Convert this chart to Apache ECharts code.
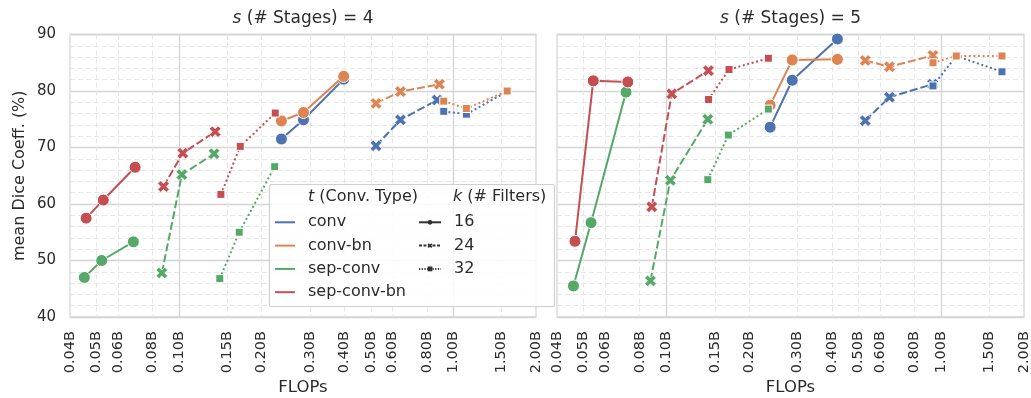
<!DOCTYPE html>
<html>
<head>
<meta charset="utf-8">
<script src="https://cdn.jsdelivr.net/npm/echarts@6/dist/echarts.min.js"></script>
<style>
html,body{margin:0;padding:0;background:#fff;}
#chart{width:1031px;height:398px;}
</style>
</head>
<body>
<div id="chart"></div>
<script>
// ---------- data ----------
const convTypes = ['conv', 'conv-bn', 'sep-conv', 'sep-conv-bn'];
const filterCounts = ['16', '24', '32'];
const stageCounts = ['4', '5'];
const flopTicks = [0.04, 0.05, 0.06, 0.08, 0.10, 0.15, 0.20, 0.30, 0.40, 0.50, 0.60, 0.80, 1.00, 1.50, 2.00];
const flopMajorTicks = [0.10, 1.00];
const diceTicks = [40, 50, 60, 70, 80, 90];

// [FLOPs (billions), mean Dice (%)] ; each array = [k16 points, k24 points, k32 points]
const s4_conv = [
  [[0.236, 71.5], [0.284, 74.9], [0.398, 82.1]],
  [[0.522, 70.3], [0.641, 74.9], [0.872, 78.4]],
  [[0.922, 76.4], [1.115, 75.9], [1.57, 79.9]]
];
const s4_convbn = [
  [[0.236, 74.7], [0.284, 76.2], [0.398, 82.6]],
  [[0.522, 77.8], [0.641, 79.9], [0.889, 81.2]],
  [[0.922, 78.2], [1.115, 76.9], [1.57, 80.0]]
];
const s4_sepconv = [
  [[0.0451, 47.0], [0.0522, 50.0], [0.0681, 53.3]],
  [[0.0865, 47.8], [0.1023, 65.2], [0.134, 68.9]],
  [[0.1407, 46.8], [0.1656, 55.0], [0.223, 66.6]]
];
const s4_sepconvbn = [
  [[0.0458, 57.5], [0.0529, 60.7], [0.0691, 66.5]],
  [[0.0877, 63.1], [0.1031, 69.0], [0.1353, 72.8]],
  [[0.142, 61.7], [0.167, 70.2], [0.224, 76.1]]
];
const s5_conv = [
  [[0.2385, 73.6], [0.287, 81.9], [0.419, 89.2]],
  [[0.529, 74.75], [0.648, 78.9], [0.93, 81.2]],
  [[0.933, 80.9], [1.134, 86.2], [1.663, 83.4]]
];
const s5_convbn = [
  [[0.2385, 77.5], [0.287, 85.5], [0.419, 85.6]],
  [[0.529, 85.4], [0.648, 84.3], [0.933, 86.3]],
  [[0.933, 85.0], [1.134, 86.2], [1.663, 86.2]]
];
const s5_sepconv = [
  [[0.0459, 45.5], [0.0532, 56.7], [0.0713, 79.8]],
  [[0.0875, 46.4], [0.1034, 64.2], [0.1415, 75.0]],
  [[0.1415, 64.3], [0.168, 72.2], [0.235, 76.8]]
];
const s5_sepconvbn = [
  [[0.0465, 53.4], [0.0542, 81.8], [0.0724, 81.6]],
  [[0.0885, 59.5], [0.1046, 79.5], [0.1422, 83.6]],
  [[0.1424, 78.5], [0.169, 83.8], [0.235, 85.8]]
];

// ---------- styling ----------
const FONT = 'DejaVu Sans';
const TXT = '#2b2b2b';
const GRIDC = '#d4d4d4';
const MINORC = '#e6e6e6';
const typeColors = ['#4c72b0', '#dd8452', '#55a868', '#c44e52'];
const XPATH = 'path://M0,2.5L2.5,0L5,2.5L7.5,0L10,2.5L7.5,5L10,7.5L7.5,10L5,7.5L2.5,10L0,7.5L2.5,5Z';
const kSymbols = ['circle', XPATH, 'rect'];
const kSizes = [12, 11.5, 8];
const kDash = ['solid', [8, 3], [2, 2.6]];

const panelData = [
  [s4_conv, s4_convbn, s4_sepconv, s4_sepconvbn],
  [s5_conv, s5_convbn, s5_sepconv, s5_sepconvbn]
];

const gridDefs = [
  {left: 70, right: 1031 - 536, top: 34.5, bottom: 398 - 317},
  {left: 557, right: 1031 - 1024, top: 34.5, bottom: 398 - 317}
];

const xAxes = [], yAxes = [], grids = [];
gridDefs.forEach((g, gi) => {
  grids.push(Object.assign({show: true, borderColor: GRIDC, borderWidth: 1.3, backgroundColor: '#fff', containLabel: false, outerBoundsMode: 'none'}, g));
  // labelled axis with dashed minor grid lines
  xAxes.push({
    type: 'log', logBase: 10, gridIndex: gi, min: 0.04, max: 2,
    name: 'FLOPs', nameLocation: 'middle', nameGap: 62, nameMoveOverlap: false,
    nameTextStyle: {fontFamily: FONT, fontSize: 16.5, color: TXT},
    axisLine: {show: false},
    axisTick: {show: false, customValues: flopTicks.filter(v => flopMajorTicks.indexOf(v) < 0)},
    axisLabel: {
      show: true, customValues: flopTicks, rotate: 90, margin: 14,
      fontFamily: FONT, fontSize: 14.5, color: TXT,
      formatter: v => Number(v).toFixed(2) + 'B'
    },
    splitLine: {show: true, lineStyle: {color: MINORC, width: 1, type: [5, 3]}}
  });
  // major grid axis
  xAxes.push({
    type: 'log', logBase: 10, gridIndex: gi, min: 0.04, max: 2,
    axisLine: {show: false},
    axisTick: {show: false, customValues: flopMajorTicks},
    axisLabel: {show: false},
    splitLine: {show: true, lineStyle: {color: GRIDC, width: 1.3}}
  });
  yAxes.push({
    type: 'value', gridIndex: gi, min: diceTicks[0], max: diceTicks[diceTicks.length - 1], interval: 10,
    name: gi === 0 ? 'mean Dice Coeff. (%)' : '', nameLocation: 'middle', nameGap: 42, nameMoveOverlap: false,
    nameTextStyle: {fontFamily: FONT, fontSize: 16, color: TXT},
    axisLine: {show: false}, axisTick: {show: false},
    axisLabel: {show: gi === 0, fontFamily: FONT, fontSize: 15, color: TXT, margin: 14},
    splitLine: {show: true, lineStyle: {color: GRIDC, width: 1.3}},
    minorTick: {show: false, splitNumber: 5},
    minorSplitLine: {show: true, lineStyle: {color: MINORC, width: 1, type: [5, 3]}}
  });
});

const series = [];
panelData.forEach((types, pi) => {
  types.forEach((byK, ti) => {
    byK.forEach((pts, ki) => {
      series.push({
        type: 'line', name: convTypes[ti],
        xAxisIndex: pi * 2, yAxisIndex: pi,
        data: pts,
        symbol: kSymbols[ki], symbolSize: kSizes[ki],
        showAllSymbol: true,
        color: typeColors[ti],
        lineStyle: {width: 2, type: kDash[ki], color: typeColors[ti]},
        itemStyle: {color: typeColors[ti], borderColor: '#fff', borderWidth: ki === 1 ? 0.6 : 1},
        emphasis: {disabled: true},
        animation: false,
        z: 2 + ti
      });
    });
  });
});
// style-legend entries (no data)
filterCounts.forEach((k, ki) => {
  series.push({
    type: 'line', name: k, xAxisIndex: 0, yAxisIndex: 0, data: [],
    symbol: kSymbols[ki], symbolSize: 5, color: '#333',
    lineStyle: {width: 1.5, type: ki === 0 ? 'solid' : (ki === 1 ? [3, 1.5] : [1.2, 1.5]), color: '#333'},
    itemStyle: {color: '#333', borderWidth: 0}, animation: false
  });
});

const legendText = {fontFamily: FONT, fontSize: 16, color: TXT, lineHeight: 16, padding: [0, 0, 0, 8]};

const titleStyle = (size) => ({fontFamily: FONT, fontSize: size, fontWeight: 'normal', color: TXT,
  rich: {i: {fontFamily: FONT, fontStyle: 'italic', fontSize: size, color: TXT}}});

const option = {
  animation: false,
  backgroundColor: '#fff',
  textStyle: {fontFamily: FONT},
  title: [
    {text: '{i|s} (# Stages) = ' + stageCounts[0], left: 303, top: 10, textAlign: 'center', padding: 0, textStyle: titleStyle(17)},
    {text: '{i|s} (# Stages) = ' + stageCounts[1], left: 790.5, top: 10, textAlign: 'center', padding: 0, textStyle: titleStyle(17)},
    {text: '{i|t} (Conv. Type)', left: 308, top: 189, padding: 0, z: 10, textStyle: titleStyle(16)},
    {text: '{i|k} (# Filters)', left: 453, top: 189, padding: 0, z: 10, textStyle: titleStyle(16)}
  ],
  graphic: [{
    type: 'rect', shape: {x: 269.5, y: 184.5, width: 285, height: 122, r: 2}, z: 5,
    style: {fill: 'rgba(255,255,255,0.85)', stroke: '#d0d0d0', lineWidth: 1.2}
  }],
  legend: [
    {
      orient: 'vertical', left: 275, top: 214.3, padding: 0, itemGap: 7.3,
      itemWidth: 20, itemHeight: 2, z: 10, selectedMode: false,
      data: convTypes.map((n, i) => ({name: n, icon: 'rect', itemStyle: {color: typeColors[i], borderWidth: 0}})),
      textStyle: legendText
    },
    {
      orient: 'vertical', left: 418, top: 214.3, padding: 0, itemGap: 7.3,
      itemWidth: 22, itemHeight: 6, z: 10, selectedMode: false,
      data: filterCounts,
      textStyle: legendText
    }
  ],
  grid: grids,
  xAxis: xAxes,
  yAxis: yAxes,
  series: series
};

const chart = echarts.init(document.getElementById('chart'), null, {renderer: 'canvas'});
chart.setOption(option);
</script>
</body>
</html>
